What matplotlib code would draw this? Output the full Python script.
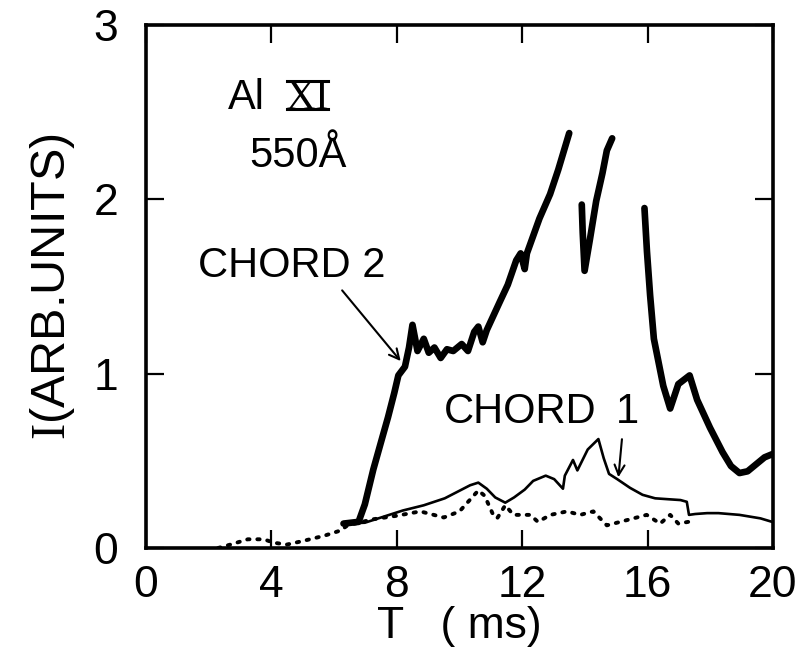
import matplotlib
matplotlib.use("Agg")
import matplotlib.pyplot as plt
from matplotlib.lines import Line2D

plt.rcParams['font.family'] = ['Liberation Sans', 'DejaVu Sans']
plt.rcParams['mathtext.fontset'] = 'custom'
plt.rcParams['mathtext.rm'] = 'Liberation Serif'

# Chord 2 (thick trace), drawn in three pieces
chord2_a_t = [6.3, 6.78, 6.98, 7.25, 7.5, 7.72, 7.92, 8.05, 8.26, 8.39, 8.5, 8.66, 8.86,
              9.02, 9.2, 9.4, 9.6, 9.8, 10.07, 10.27, 10.47, 10.6, 10.74, 10.87, 11.28,
              11.54, 11.81, 11.95, 12.08, 12.15, 12.35, 12.55, 12.89, 13.15, 13.5]
chord2_a_i = [0.14, 0.15, 0.25, 0.45, 0.61, 0.75, 0.89, 0.99, 1.04, 1.15, 1.28, 1.13, 1.2,
              1.12, 1.15, 1.09, 1.14, 1.13, 1.17, 1.13, 1.24, 1.27, 1.18, 1.25, 1.41,
              1.51, 1.65, 1.69, 1.6, 1.69, 1.79, 1.89, 2.03, 2.17, 2.38]
chord2_b_t = [13.9, 13.93, 13.99, 14.16, 14.36, 14.56, 14.7, 14.87]
chord2_b_i = [1.97, 1.81, 1.59, 1.77, 1.99, 2.15, 2.28, 2.35]
chord2_c_t = [15.9, 15.98, 16.08, 16.2, 16.5, 16.72, 16.98, 17.34, 17.58, 17.99, 18.39,
              18.66, 18.93, 19.19, 19.46, 19.73, 20.0]
chord2_c_i = [1.95, 1.7, 1.45, 1.2, 0.93, 0.8, 0.94, 0.99, 0.85, 0.69, 0.55,
              0.47, 0.43, 0.44, 0.48, 0.52, 0.54]

# Chord 1 (thin solid trace)
chord1_t = [6.3, 6.98, 7.5, 8.19, 8.86, 9.53, 10.07, 10.34, 10.6, 10.87, 11.14, 11.46,
            11.74, 12.08, 12.35, 12.75, 13.02, 13.3, 13.36, 13.62, 13.76, 14.09, 14.43,
            14.6, 14.77, 15.03, 15.44, 15.84, 16.24, 16.64, 17.05, 17.25, 17.32, 17.52,
            17.9, 18.26, 18.93, 19.6, 19.97]
chord1_i = [0.14, 0.145, 0.175, 0.215, 0.245, 0.285, 0.335, 0.36, 0.375, 0.34, 0.29, 0.26,
            0.29, 0.335, 0.385, 0.415, 0.395, 0.34, 0.415, 0.505, 0.445, 0.565, 0.625,
            0.515, 0.425, 0.395, 0.345, 0.305, 0.285, 0.28, 0.275, 0.265, 0.19, 0.195,
            0.2, 0.2, 0.19, 0.17, 0.15]

# Dotted trace
dotted_t = [2.3, 2.7, 3.25, 3.76, 4.08, 4.5, 5.0, 5.68, 6.2, 6.43, 7.25, 8.0, 8.75, 9.5,
            10.0, 10.3, 10.6, 10.8, 11.05, 11.2, 11.46, 11.72, 12.26, 12.5, 12.9, 13.43,
            13.85, 14.27, 14.7, 15.13, 15.55, 15.97, 16.4, 16.72, 16.98, 17.3]
dotted_i = [0.0, 0.02, 0.05, 0.05, 0.03, 0.02, 0.04, 0.07, 0.1, 0.13, 0.165, 0.185, 0.21,
            0.175, 0.21, 0.27, 0.33, 0.3, 0.2, 0.17, 0.245, 0.19, 0.19, 0.15, 0.19, 0.21,
            0.19, 0.21, 0.13, 0.15, 0.17, 0.19, 0.14, 0.19, 0.14, 0.15]

x_ticks = [0, 4, 8, 12, 16, 20]
y_ticks = [0, 1, 2, 3]

fig = plt.figure(figsize=(8.01, 6.49), dpi=100)
W, H = 801, 649
ax = fig.add_axes([146 / W, 1 - 548 / H, (773 - 146) / W, (548 - 25) / H])

for t, i in [(chord2_a_t, chord2_a_i), (chord2_b_t, chord2_b_i), (chord2_c_t, chord2_c_i)]:
    ax.plot(t, i, color='black', lw=4.8, solid_capstyle='round', solid_joinstyle='round')
ax.plot(chord1_t, chord1_i, color='black', lw=1.9, solid_joinstyle='round')
ax.plot(dotted_t, dotted_i, color='black', lw=2.8, linestyle=(0, (0.6, 2.0)),
        dash_capstyle='round')

ax.set_xlim(0, 20)
ax.set_ylim(0, 3)
ax.set_xticks(x_ticks)
ax.set_yticks(y_ticks)
ax.set_xticklabels([str(v) for v in x_ticks])
ax.set_yticklabels([str(v) for v in y_ticks])
ax.tick_params(direction='in', length=13, width=1.6, labelsize=32,
               top=True, right=True, pad=12)
ax.tick_params(axis='y', pad=20)
for s in ax.spines.values():
    s.set_linewidth(2.6)

ax.set_xlabel('T   ( ms)', fontsize=32, labelpad=0)
ax.set_ylabel(r'$\mathrm{I}$(ARB.UNITS)', fontsize=35, labelpad=12)

txt_kw = dict(fontsize=30, color='black')
ax.text(2.6, 2.52, 'Al', va='baseline', ha='left', **txt_kw)
xi = ax.text(4.45, 2.52, 'XI', va='baseline', ha='left', family='Liberation Serif',
             fontsize=30)
ax.text(3.3, 2.25, '550Å', va='center', ha='left', **txt_kw)
ax.text(1.65, 1.62, 'CHORD 2', va='center', ha='left', **txt_kw)
ax.text(9.5, 0.78, 'CHORD', va='center', ha='left', **txt_kw)
ax.text(15.35, 0.78, '1', va='center', ha='center', **txt_kw)

arrow = dict(arrowstyle='->', color='black', lw=1.5, mutation_scale=18)
ax.annotate('', xy=(8.18, 1.06), xytext=(6.2, 1.49), arrowprops=arrow)
ax.annotate('', xy=(15.06, 0.39), xytext=(15.19, 0.64), arrowprops=arrow)

# bars on the baseline and cap line of the Roman numeral
fig.canvas.draw()
bb = xi.get_window_extent()
base_px = ax.transData.transform(xi.get_position())[1]
cap_px = 0.66 * xi.get_fontsize() * fig.dpi / 72.0
inv = fig.transFigure.inverted()
for yb in (base_px - 0.5, base_px + cap_px + 0.5):
    (x0, y0), (x1, _) = inv.transform([(bb.x0 + 1, yb), (bb.x1 - 1, yb)])
    fig.add_artist(Line2D([x0, x1], [y0, y0], color='black', lw=2.2,
                          transform=fig.transFigure))

fig.savefig('out.png', dpi=100)
